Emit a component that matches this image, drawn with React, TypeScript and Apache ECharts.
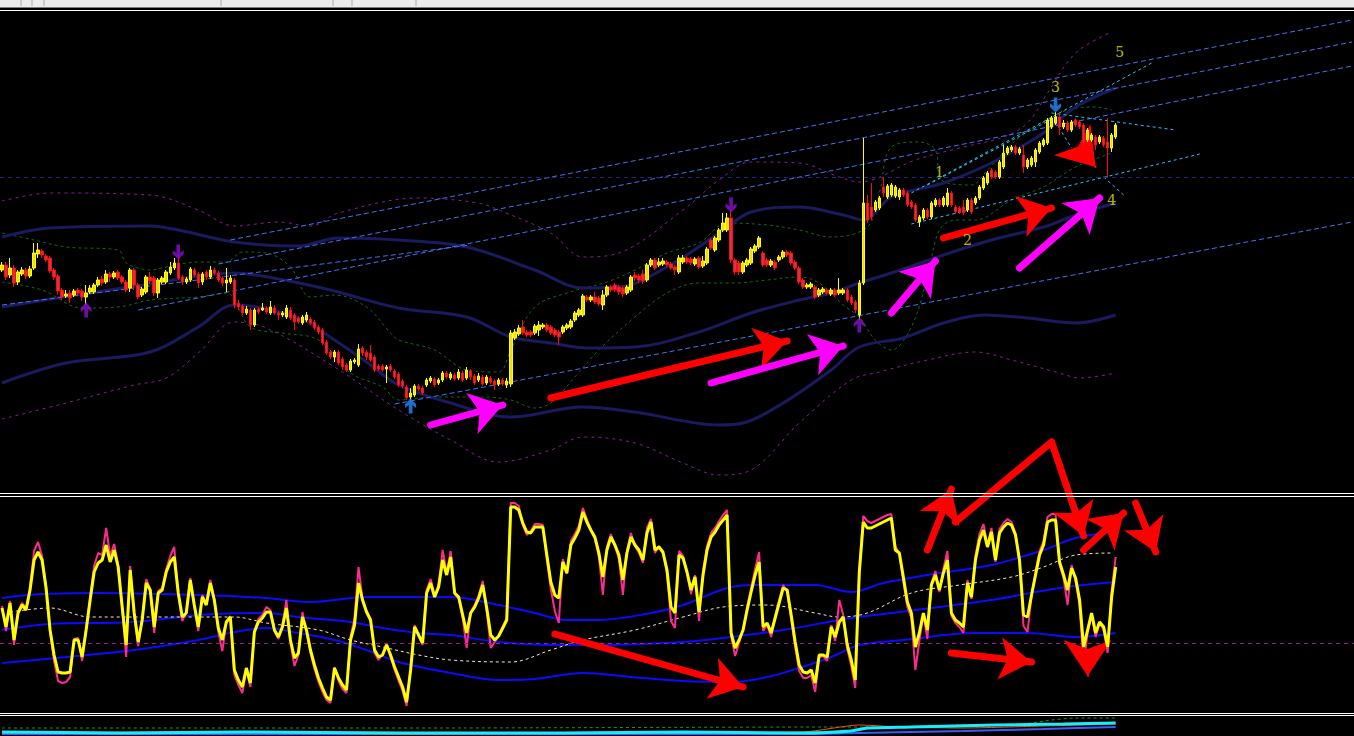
import React, { useEffect, useRef } from "react";
import * as echarts from "echarts";

// ---------- slots (bar positions) ----------
const SLOT_COUNT = 338;
const slots = Array.from({ length: SLOT_COUNT }, (_, k) => String(k));

// ---------- price candles: [open, close, low, high] ----------
const candles = [
[230,235,228,238],[235,223,220,238],[225,232,222,242],[232,217,213,235],[218,228,215,230],
[226,230,224,233],[230,224,221,232],[224,231,222,234],[232,247,230,257],[246,250,242,257],
[249,245,242,251],[244,240,238,246],[242,229,227,244],[230,223,220,232],[224,209,205,226],
[210,203,200,212],[204,206,202,210],[207,202,197,210],[205,209,203,211],[210,207,204,212],
[209,203,199,211],[203,207,195,215],[208,212,206,215],[208,215,206,217],[215,220,213,223],
[221,217,214,224],[218,226,216,230],[226,223,218,228],[223,227,221,229],[228,222,220,230],
[223,218,216,225],[218,210,208,220],[212,230,208,232],[230,215,210,232],[215,203,201,217],
[205,211,203,213],[208,223,206,225],[223,219,216,228],[222,207,204,224],[207,220,202,222],
[218,222,216,224],[218,228,216,230],[227,233,225,238],[232,237,230,242],[237,222,220,245],
[223,218,215,225],[218,221,216,223],[220,231,218,233],[230,225,223,232],[226,217,212,228],
[218,226,215,228],[228,223,220,230],[223,230,221,234],[230,227,225,232],[227,220,218,229],
[222,217,214,224],[217,220,208,232],[218,222,216,225],[220,195,192,222],[197,193,190,200],
[194,187,185,196],[187,191,185,194],[190,175,170,192],[175,190,173,192],[191,188,186,193],
[190,192,189,197],[192,188,186,194],[187,193,185,199],[192,187,185,195],[187,185,180,189],
[185,187,183,189],[183,192,181,195],[190,182,180,193],[185,178,170,187],[182,178,176,184],
[177,183,175,185],[180,185,178,188],[181,177,175,183],[178,172,170,180],[173,168,166,175],
[170,157,155,172],[158,147,145,160],[148,143,141,150],[143,148,138,150],[148,137,135,150],
[141,133,130,143],[135,130,128,137],[130,139,128,141],[138,140,136,142],[135,151,133,156],
[152,147,144,154],[148,143,140,150],[147,140,138,155],[143,130,128,145],[134,131,129,136],
[134,130,128,136],[131,133,117,135],[134,130,128,136],[129,123,121,131],[126,115,113,128],
[119,114,112,121],[113,102,100,115],[103,107,101,112],[105,114,103,116],[114,111,109,116],
[112,107,105,114],[115,120,113,122],[119,122,117,124],[121,115,113,123],[117,120,115,122],
[120,127,118,129],[127,123,121,129],[122,126,120,128],[125,121,119,127],[122,128,120,131],
[127,120,118,129],[122,130,120,133],[129,123,120,131],[124,117,115,126],[120,124,118,127],
[123,116,114,125],[117,123,115,125],[122,118,116,124],[119,115,110,121],[116,120,114,122],
[120,116,114,122],[115,119,112,122],[116,167,113,170],[162,168,160,171],[166,172,164,175],
[173,167,165,180],[168,165,163,170],[168,165,163,170],[167,174,165,176],[170,175,164,179],
[173,175,171,177],[175,170,168,177],[173,167,165,175],[170,165,163,172],[168,163,155,170],
[168,173,166,175],[172,175,170,177],[173,179,171,181],[180,187,178,189],[185,190,183,192],
[185,204,183,206],[203,200,198,205],[200,203,198,205],[203,198,196,208],[202,196,194,204],
[195,205,190,210],[205,213,203,215],[213,210,208,215],[215,210,208,217],[213,208,205,215],
[212,206,203,214],[207,213,205,215],[210,223,208,225],[225,222,219,228],[224,220,217,226],
[226,219,216,230],[220,235,218,237],[235,240,233,242],[240,232,230,242],[235,238,233,242],
[236,239,234,242],[238,235,233,240],[236,232,230,238],[233,230,225,235],[228,242,226,245],
[238,242,236,245],[242,238,236,244],[241,237,235,243],[236,241,234,243],[242,233,231,244],
[234,239,232,244],[237,251,235,253],[260,252,250,262],[250,262,248,264],[260,270,258,272],
[270,277,268,287],[270,282,268,287],[282,240,237,290],[240,228,225,242],[237,228,225,239],
[228,237,226,239],[235,240,233,242],[237,251,235,253],[249,254,247,256],[253,262,251,264],
[247,235,233,249],[240,235,233,242],[235,239,233,241],[238,232,230,240],[240,243,238,245],
[243,248,241,250],[248,245,243,250],[247,237,235,249],[238,232,230,240],[232,218,216,234],
[220,213,211,222],[213,215,211,217],[213,216,211,218],[213,203,201,215],[205,210,203,212],
[208,211,206,213],[210,207,205,212],[206,210,204,212],[210,205,203,212],[207,210,205,222],
[207,210,205,212],[210,200,198,212],[203,197,195,205],[198,190,187,200],[185,217,180,220],
[217,297,215,362],[297,280,277,305],[293,283,280,317],[290,298,288,300],[292,302,290,304],
[313,307,303,323],[303,314,301,316],[305,315,303,317],[304,313,302,315],[303,310,300,312],
[310,305,303,312],[307,295,293,309],[298,293,291,300],[295,280,278,297],[278,283,273,285],
[282,290,280,292],[290,283,281,292],[283,297,281,299],[295,300,293,302],[300,295,293,302],
[295,302,293,304],[295,307,293,312],[307,295,293,309],[293,288,286,295],[292,288,286,294],
[293,287,285,300],[290,300,288,302],[300,288,286,302],[297,302,295,304],[302,313,300,315],
[312,322,310,324],[317,327,315,329],[330,323,321,332],[328,323,321,330],[323,338,321,340],
[333,347,331,355],[347,352,345,354],[350,353,348,355],[353,347,345,355],[347,351,345,353],
[345,333,327,355],[333,340,331,342],[335,342,333,344],[338,350,333,352],[348,357,346,359],
[355,360,353,362],[357,380,355,382],[373,382,371,384],[377,383,375,388],[383,373,365,387],
[373,377,371,380],[377,370,368,379],[370,378,368,380],[380,375,373,382],[378,373,371,380],
[375,357,350,377],[360,370,358,372],[360,365,358,367],[363,355,350,365],[358,363,356,365],
[362,355,353,364],[358,352,323,382],[352,365,348,367],[363,375,361,377],
];

// ---------- price bands: [slot, price] ----------
const bbUpper = [[0,263],[12,272],[37,274],[44,270],[58,258],[74,254],[84,262],[99,260],[116,253],[133,230],[145,212],[154,213],[166,233],[179,267],[187,288],[199,293],[210,285],[215,280],[222,303],[235,317],[247,337],[256,357],[261,370],[268,393],[278,412]];
const bbMiddle = [[0,193],[20,206],[37,216],[49,224],[58,227],[69,221],[82,210],[99,192],[116,183],[127,163],[137,157],[146,152],[158,153],[174,168],[187,187],[199,200],[207,207],[214,217],[222,227],[235,245],[247,260],[260,273],[268,285],[278,297]];
const bbLower = [[0,117],[16,137],[37,148],[49,173],[58,195],[74,182],[83,160],[91,138],[99,115],[112,97],[127,83],[145,93],[158,88],[179,75],[185,77],[195,97],[207,130],[214,153],[225,162],[235,177],[245,185],[256,182],[268,177],[278,185]];
const outerUpper = [[0,299],[12,307],[37,305],[49,290],[58,274],[69,278],[77,274],[84,287],[104,302],[119,297],[124,290],[137,267],[145,243],[154,247],[170,290],[179,320],[187,338],[199,337],[209,323],[214,318],[228,340],[239,352],[250,363],[256,377],[261,407],[268,447],[277,468]];
const outerLower = [[0,81],[16,97],[33,115],[41,122],[49,147],[58,178],[66,172],[83,133],[99,90],[112,60],[124,38],[137,50],[145,63],[158,57],[170,37],[179,25],[187,30],[199,77],[212,120],[219,128],[231,140],[243,148],[252,140],[264,127],[269,122],[278,127]];
const fastUpper = [[0,267],[8,260],[16,253],[29,250],[31,237],[37,230],[41,233],[49,238],[56,238],[60,248],[66,247],[72,233],[77,203],[83,205],[91,193],[97,167],[99,160],[108,150],[116,130],[124,128],[127,150],[133,193],[141,207],[151,218],[158,230],[166,247],[174,257],[181,277],[191,275],[199,270],[207,263],[216,273],[219,307],[222,353],[229,358],[233,350],[234,323],[236,317],[242,315],[246,330],[254,363],[261,380],[266,390],[273,393],[277,390]];
const fastLower = [[0,218],[10,210],[20,192],[29,193],[37,200],[49,203],[56,207],[62,173],[70,167],[79,160],[87,127],[95,113],[99,100],[108,103],[120,103],[127,100],[133,92],[137,97],[143,123],[149,150],[158,183],[166,207],[174,217],[183,217],[191,220],[199,223],[204,217],[210,195],[214,183],[218,160],[222,150],[227,173],[231,223],[234,270],[238,280],[243,280],[252,300],[260,313],[264,323],[268,333],[277,347]];

// ---------- channel lines: [slot0, price0, slot1, price1] ----------
const blueChannels = [[57,260,337,480],[54,236,337,458],[34,190,337,434],[98,96,337,278],[0,195,117,255]];
const cyanChannels = [[227,276,299,346],[227,307,287,437],[231,315,264,385],[262,387,293,370],[263,378,267,352],[275,323,280,305]];
const levelPrice = 323;

// ---------- fractals & wave labels ----------
const fractalUpSlot = [21, 102, 214];
const fractalUpPrice = [190, 94, 175];
const fractalUpBlue = [false, true, false];
const fractalDownSlot = [44, 182, 263];
const fractalDownPrice = [248, 295, 395];
const fractalDownBlue = [false, false, true];
const waveNames = ["1", "2", "3", "4", "5"];
const waveSlot = [234, 241, 263, 277, 279];
const wavePrice = [328, 260, 413, 300, 448];

// ---------- oscillator ----------
const oscMain = [
103,84,108,71,98,106,101,121,151,159,151,123,81,56,39,38,38,39,71,71,
54,81,111,139,148,151,166,149,161,144,104,66,141,98,69,91,128,121,84,118,
121,139,149,154,118,94,98,131,106,84,114,106,128,111,83,71,89,94,41,31,
24,43,28,79,89,93,99,99,81,74,84,103,71,53,58,94,81,61,46,33,
23,14,11,43,33,26,21,71,86,128,111,99,91,61,54,56,66,56,44,34,
24,9,41,84,76,68,118,128,114,124,151,136,154,118,114,96,78,98,104,113,
126,103,76,71,75,83,91,204,204,201,188,179,178,184,184,184,156,129,116,113,
149,138,166,173,181,199,189,181,174,158,134,161,174,166,156,131,158,174,166,161,
151,178,189,161,164,159,141,104,98,156,153,139,121,134,99,136,161,174,179,186,
191,196,78,63,71,81,101,119,136,149,84,88,78,93,108,123,121,96,69,46,
39,38,41,28,56,56,54,84,74,89,94,66,51,31,138,189,183,183,185,187,
189,191,193,161,158,134,109,98,64,78,98,81,126,136,121,138,151,98,91,88,
84,128,114,151,171,181,164,179,151,178,184,188,186,176,151,96,94,116,136,156,
166,189,191,191,149,136,121,143,133,111,64,81,98,78,89,84,64,114,144,
];
const oscFast = [
105,80,110,66,99,108,103,124,160,169,155,124,79,50,30,28,29,34,72,73,
50,82,114,145,158,156,183,155,167,146,103,54,145,96,65,93,132,122,78,120,
123,142,155,164,117,90,99,133,105,80,116,107,131,112,79,60,88,95,36,26,
18,41,24,80,92,96,104,101,80,72,86,111,68,45,56,99,80,58,42,29,
19,11,8,44,30,22,18,74,93,144,112,100,92,58,51,57,68,54,41,30,
20,5,42,86,75,66,121,132,115,127,161,138,160,117,112,93,63,99,106,116,
130,100,63,69,76,84,93,208,208,205,186,176,180,187,187,186,152,122,100,88,
152,137,170,177,185,203,192,180,172,154,116,164,177,165,152,116,160,178,165,158,
148,183,192,158,165,157,138,90,83,160,155,137,117,136,90,140,165,178,183,190,
196,201,75,55,68,82,104,123,142,159,80,86,74,95,111,126,119,92,64,40,
33,33,36,19,54,55,50,86,70,111,96,62,45,23,142,195,190,188,190,192,
194,196,197,165,157,130,104,93,41,70,97,72,128,140,119,142,160,95,88,84,
78,131,112,155,177,187,166,183,149,182,188,192,189,178,148,85,79,114,139,160,
170,194,197,197,146,133,106,146,130,106,46,78,96,74,88,81,58,120,154,
];
const oscBandUpper = [[0,113],[10,117],[24,118],[49,116],[66,113],[77,109],[91,114],[112,114],[124,106],[133,98],[141,91],[149,91],[162,98],[170,106],[181,123],[187,126],[203,126],[212,119],[220,128],[231,136],[247,146],[260,161],[268,173],[278,179]];
const oscBandMiddle = [[0,81],[12,87],[33,89],[49,96],[66,98],[74,94],[87,89],[95,83],[104,78],[112,76],[124,69],[137,66],[149,66],[170,69],[182,74],[195,81],[212,93],[224,99],[247,111],[264,123],[278,129]];
const oscBandLower = [[0,48],[16,54],[33,61],[49,71],[58,79],[66,83],[74,78],[83,71],[91,61],[99,49],[112,38],[124,31],[133,32],[145,38],[157,34],[170,30],[182,29],[191,34],[199,43],[207,54],[214,66],[225,71],[243,78],[256,78],[268,74],[278,78]];
const oscSignal = [[2,99],[12,103],[22,94],[41,94],[58,94],[66,88],[79,81],[87,71],[95,64],[104,56],[112,51],[127,49],[137,61],[145,71],[158,81],[170,94],[180,104],[191,106],[203,98],[209,94],[216,98],[227,118],[239,126],[252,134],[260,144],[268,156],[277,158]];
const oscLevel = 68;

// ---------- bottom strip ----------
const stripGreen = [[0,8],[110,8],[205,9],[220,9],[240,11],[255,12],[262,16],[268,18],[278,18]];
const stripCyan = [[0,4],[30,3],[60,4],[100,3],[140,3],[170,4],[200,3],[212,5],[216,8],[227,9],[248,11],[265,12],[278,13]];
const stripBlue = [[0,2],[100,2],[200,2],[214,3],[240,5],[260,7],[278,9]];
const stripOrange = [[0,3],[50,4],[100,2],[150,3],[200,4],[214,11],[224,9],[240,8],[260,10],[278,12]];

// ---------- hand-drawn arrows: [slot0, value0, slot1, value1] ----------
const mainRedArrows = [[137,102,196,159],[235,262,262,292]];
const mainRedHead = [[270,347,273,333]];
const mainMagentaArrows = [[107,75,125,95],[177,117,210,154],[222,187,233,239],[254,232,274,302]];
const oscRedArrows = [[138,77,185,24],[231,161,237,222],[262,269,270,175],[270,161,280,198],[283,208,288,159],[237,58,257,49]];
const oscRedSegments = [[238,189,262,269]];
const oscRedHead = [[271,51,271,35]];

const DOWN_ARROW = "path://M4,0 L8,0 L8,9 L12,6 L12,10 L6,16 L0,10 L0,6 L4,9 Z";
const UP_ARROW = "path://M6,0 L12,6 L12,10 L8,7 L8,16 L4,16 L4,7 L0,10 L0,6 Z";

function ln(data: any, color: string, width: number, type: any, axis: number, smooth: any = 0.35, z = 2) {
  return {
    type: "line", data, xAxisIndex: axis, yAxisIndex: axis, symbol: "none", showSymbol: false,
    smooth, silent: true, z, lineStyle: { color, width, type }, emphasis: { disabled: true },
  };
}

function arrows(axis: number, color: string, list: number[][], size: number, head: boolean, width = 7) {
  return {
    type: "line", data: [], xAxisIndex: axis, yAxisIndex: axis, silent: true, z: 30,
    markLine: {
      silent: true, animation: false, symbol: head ? ["none", "arrow"] : ["none", "none"], symbolSize: size,
      lineStyle: { color, width, type: "solid", cap: "round", opacity: 1 },
      label: { show: false }, emphasis: { disabled: true },
      data: list.map((a) => [{ coord: [a[0], a[1]] }, { coord: [a[2], a[3]] }]),
    },
  };
}

function segLines(list: number[][], color: string, dash: any) {
  return list.map((s) => ln([[s[0], s[1]], [s[2], s[3]]], color, 1, dash, 0, false, 3));
}

function buildOption(): any {
  const series: any[] = [];
  // main bands
  series.push(ln(outerUpper, "#8a1a9a", 1, [3, 4], 0));
  series.push(ln(outerLower, "#8a1a9a", 1, [3, 4], 0));
  series.push(ln(fastUpper, "#0e6a12", 1, [3, 3], 0));
  series.push(ln(fastLower, "#0e6a12", 1, [3, 3], 0));
  series.push(ln(bbUpper, "#1a1a5e", 3, "solid", 0));
  series.push(ln(bbMiddle, "#1a1a5e", 3, "solid", 0));
  series.push(ln(bbLower, "#1a1a5e", 3, "solid", 0));
  series.push(...segLines(blueChannels, "#4272f4", [5, 3]));
  series.push(...segLines(cyanChannels, "#22c4ff", [3, 3]));
  series.push({
    type: "line", data: [], xAxisIndex: 0, yAxisIndex: 0, silent: true, z: 1,
    markLine: {
      silent: true, symbol: ["none", "none"], label: { show: false }, emphasis: { disabled: true },
      lineStyle: { color: "#26267a", width: 1, type: [4, 4] }, data: [{ yAxis: levelPrice }],
    },
  });
  // candles
  series.push({
    type: "candlestick", data: candles, xAxisIndex: 0, yAxisIndex: 0, barWidth: 3, z: 5, silent: true,
    itemStyle: { color: "#ecdc1c", color0: "#d43446", borderColor: "#ffff00", borderColor0: "#ff0a0a", borderWidth: 1 },
    emphasis: { disabled: true },
  });
  // fractals
  series.push({
    type: "scatter", xAxisIndex: 0, yAxisIndex: 0, symbol: UP_ARROW, symbolSize: [11, 15], z: 6, silent: true,
    data: fractalUpSlot.map((s, k) => ({ value: [s, fractalUpPrice[k]], itemStyle: { color: fractalUpBlue[k] ? "#1e8cff" : "#8a10d0" } })),
  });
  series.push({
    type: "scatter", xAxisIndex: 0, yAxisIndex: 0, symbol: DOWN_ARROW, symbolSize: [11, 15], z: 6, silent: true,
    data: fractalDownSlot.map((s, k) => ({ value: [s, fractalDownPrice[k]], itemStyle: { color: fractalDownBlue[k] ? "#1e8cff" : "#8a10d0" } })),
  });
  // wave labels
  series.push({
    type: "scatter", xAxisIndex: 0, yAxisIndex: 0, symbolSize: 1, z: 7, silent: true,
    itemStyle: { color: "rgba(0,0,0,0)" },
    label: { show: true, position: "inside", formatter: "{b}", color: "#e8e800", fontFamily: "DejaVu Serif", fontSize: 14 },
    data: waveNames.map((n, k) => ({ name: n, value: [waveSlot[k], wavePrice[k]] })),
  });
  // oscillator
  series.push(ln(oscBandUpper, "#0a0aff", 2, "solid", 1));
  series.push(ln(oscBandMiddle, "#0a0aff", 2, "solid", 1));
  series.push(ln(oscBandLower, "#0a0aff", 2, "solid", 1));
  series.push(ln(oscSignal, "#ffe6c0", 1, [3, 3], 1));
  series.push({
    type: "line", data: [], xAxisIndex: 1, yAxisIndex: 1, silent: true, z: 1,
    markLine: {
      silent: true, symbol: ["none", "none"], label: { show: false }, emphasis: { disabled: true },
      lineStyle: { color: "#9a1a9a", width: 1, type: [4, 4] }, data: [{ yAxis: oscLevel }],
    },
  });
  series.push(ln(oscFast, "#ff2a90", 2, "solid", 1, false, 4));
  series.push(ln(oscMain, "#ffff00", 3, "solid", 1, false, 5));
  // strip
  series.push(ln(stripGreen, "#1a9a1a", 1, [3, 3], 2, 0.2));
  series.push(ln(stripBlue, "#3a5cff", 2, "solid", 2, 0.2));
  series.push(ln(stripOrange, "#ff5000", 1, "solid", 2, 0.2));
  series.push(ln(stripCyan, "#10f0ff", 3, "solid", 2, 0.2));
  // hand-drawn arrows
  series.push(arrows(0, "#ff0000", mainRedArrows, 32, true));
  series.push(arrows(0, "#ff0000", mainRedHead, 36, true, 2));
  series.push(arrows(0, "#ff00ff", mainMagentaArrows, 32, true));
  series.push(arrows(1, "#ff0000", oscRedSegments, 26, false));
  series.push(arrows(1, "#ff0000", oscRedArrows, 32, true));
  series.push(arrows(1, "#ff0000", oscRedHead, 36, true, 2));

  const hLine = (y: number, color: string) => ({
    type: "line", shape: { x1: 0, y1: y, x2: 1354, y2: y }, style: { stroke: color, lineWidth: 1 }, silent: true, z: 100,
  });
  const vSep = (x: number) => ({
    type: "line", shape: { x1: x, y1: 0, x2: x, y2: 6 }, style: { stroke: "#a8a8a8", lineWidth: 1 }, silent: true, z: 101,
  });

  return {
    animation: false,
    backgroundColor: "#000000",
    grid: [
      { left: 0, right: 0, top: 10, height: 482 },
      { left: 0, right: 0, top: 420, height: 291 },
      { left: 0, right: 0, top: 716, height: 20 },
    ],
    xAxis: [0, 1, 2].map((g) => ({ type: "category", gridIndex: g, data: slots, show: false, boundaryGap: true })),
    yAxis: [
      { type: "value", gridIndex: 0, min: 8, max: 490, show: false },
      { type: "value", gridIndex: 1, min: 0, max: 291, show: false },
      { type: "value", gridIndex: 2, min: 0, max: 20, show: false },
    ],
    graphic: [
      { type: "rect", shape: { x: 0, y: 0, width: 1354, height: 7 }, style: { fill: "#ececec" }, silent: true, z: 100 },
      hLine(7.5, "#7c7c7c"),
      hLine(10.5, "#ffffff"),
      hLine(493.5, "#ffffff"),
      hLine(496.5, "#ffffff"),
      hLine(713.5, "#ffffff"),
      hLine(715.5, "#ffffff"),
      vSep(21), vSep(32), vSep(44), vSep(221), vSep(333), vSep(352), vSep(416),
    ],
    series,
  };
}

export default function App() {
  const ref = useRef<HTMLDivElement>(null);
  useEffect(() => {
    document.body.style.margin = "0";
    document.body.style.background = "#000";
    const chart = echarts.init(ref.current as HTMLDivElement, null, { renderer: "svg" });
    chart.setOption(buildOption());
    return () => chart.dispose();
  }, []);
  return <div ref={ref} style={{ width: 1354, height: 736, background: "#000" }} />;
}
